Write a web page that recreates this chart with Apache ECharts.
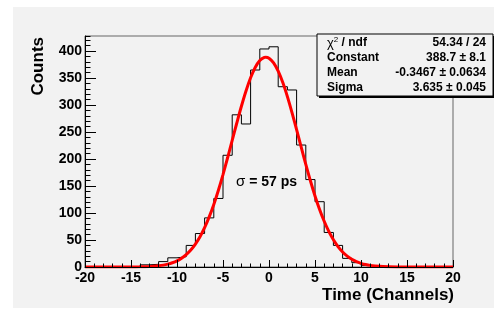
<!DOCTYPE html>
<html>
<head>
<meta charset="utf-8">
<script src="https://cdn.jsdelivr.net/npm/echarts@6/dist/echarts.min.js"></script>
<style>
html,body{margin:0;padding:0;background:#fff;}
#c{width:494px;height:309px;}
</style>
</head>
<body>
<div id="c"></div>
<script>
// Histogram: left edges of 1-channel bins and counts
var binLeft = [-20,-19,-18,-17,-16,-15,-14,-13,-12,-11,-10,-9,-8,-7,-6,-5,-4,-3,-2,-1,0,1,2,3,4,5,6,7,8,9,10,11,12,13,14,15,16,17,18,19];
var binCounts = [0,0,0,0,0,0,4,5,10,17,19,40,62,91,127,207,282,265,365,404,408,334,328,226,162,121,64,40,16,8,3,1,1,0,0,0,0,0,0,0];
// Fit curve
var fitX = [-20,-17,-15,-14,-13,-12.5,-12,-11.5,-11,-10.5,-10,-9.5,-9,-8.5,-8,-7.5,-7,-6.5,-6,-5.5,-5,-4.5,-4,-3.5,-3,-2.5,-2,-1.5,-1,-0.5,-0.35,0,0.5,1,1.5,2,2.5,3,3.5,4,4.5,5,5.5,6,6.5,7,7.5,8,8.5,9,9.5,10,10.5,11,12,13,14,15,17,20];
var fitY = [0,0.02,0.12,0.34,0.91,1.45,2.3,3.5,5.3,7.9,11.4,16.3,22.9,31.4,42.4,56.1,72.8,92.8,116.0,142.3,171.3,202.4,234.6,266.8,297.8,326.1,350.5,369.7,382.5,388.4,388.7,386.9,378.3,362.9,341.7,315.6,286.0,254.4,222.0,190.2,159.8,131.7,106.6,84.7,65.9,50.4,37.8,27.8,20.1,14.2,9.9,6.8,4.5,3.0,1.2,0.46,0.16,0.05,0,0];
var yTickLabels = [0,50,100,150,200,250,300,350,400];
var xTickLabels = [-20,-15,-10,-5,0,5,10,15,20];
var statNames = ['Constant','Mean','Sigma'];
var statValues = ['54.34 / 24','388.7 \u00b1 8.1','-0.3467 \u00b1 0.0634','3.635 \u00b1 0.045'];

var FONT = '"Liberation Sans", Arial, Helvetica, sans-serif';
var histData = binLeft.map(function(x,i){return [x, binCounts[i]];});
histData.push([binLeft[binLeft.length-1]+1, binCounts[binCounts.length-1]]);
var fitData = fitX.map(function(x,i){return [x, fitY[i]];});

var chart = echarts.init(document.getElementById('c'), null, {renderer:'canvas'});
var statLines = [];
var rowsY = [43, 57.5, 72.5, 87.5];
statLines.push({type:'text', x:327, y:rowsY[0], style:{text:'{chi|\u03c7}{sup|2}{b| / ndf}', rich:{chi:{fontFamily:FONT,fontSize:13,fill:'#000'},sup:{fontFamily:FONT,fontSize:8,fill:'#000',verticalAlign:'top',padding:[0,0,6,0]},b:{fontFamily:FONT,fontSize:12,fontWeight:'bold',fill:'#000'}}, verticalAlign:'middle', align:'left'}, z:20});
for (var i=0;i<3;i++){
  statLines.push({type:'text', x:327, y:rowsY[i+1], style:{text:statNames[i], font:'bold 12px '+FONT, fill:'#000', verticalAlign:'middle', align:'left'}, z:20});
}
for (var j=0;j<4;j++){
  statLines.push({type:'text', x:486, y:rowsY[j], style:{text:statValues[j], font:'bold 12px '+FONT, fill:'#000', verticalAlign:'middle', align:'right'}, z:20});
}

var option = {
  animation:false,
  backgroundColor:'#ffffff',
  grid:{left:85, top:36, right:41, bottom:42, show:true, backgroundColor:'#f2f2f2', borderColor:'#666', borderWidth:1, z:0},
  xAxis:{type:'value', min:-20, max:20, interval:5, z:5,
    axisLine:{onZero:false, lineStyle:{color:'#000', width:1}},
    axisTick:{show:true, inside:true, length:7, lineStyle:{color:'#000', width:1}},
    minorTick:{show:true, splitNumber:5, length:3.5, lineStyle:{color:'#000', width:1}},
    splitLine:{show:false},
    axisLabel:{margin:4, color:'#000', fontFamily:FONT, fontWeight:'bold', fontSize:14,
      formatter:function(v){return xTickLabels.indexOf(v)>=0 ? String(v) : '';}}
  },
  yAxis:[
    {type:'value', min:0, max:428, interval:50, z:5,
      axisLine:{show:true, onZero:false, lineStyle:{color:'#000', width:1}},
      axisTick:{show:true, inside:true, length:11, lineStyle:{color:'#000', width:1}},
      splitLine:{show:false},
      axisLabel:{margin:3, color:'#000', fontFamily:FONT, fontWeight:'bold', fontSize:14, showMaxLabel:false,
        formatter:function(v){return yTickLabels.indexOf(v)>=0 ? String(v) : '';}}
    },
    {type:'value', min:0, max:428, interval:10, position:'left', offset:0, z:5,
      axisLine:{show:false, onZero:false},
      axisTick:{show:true, inside:true, length:5.5, lineStyle:{color:'#000', width:1}},
      splitLine:{show:false},
      axisLabel:{show:false}
    }
  ],
  series:[
    {type:'line', data:histData, step:'end', symbol:'none', lineStyle:{color:'#000', width:1}, z:3, silent:true},
    {type:'line', data:fitData, smooth:0.3, symbol:'none', lineStyle:{color:'#ff0000', width:3}, z:4, silent:true}
  ],
  graphic:[
    {type:'rect', shape:{x:13, y:7, width:481, height:301}, style:{fill:'#f2f2f2'}, z:-10, silent:true},
    {type:'rect', shape:{x:319, y:36, width:176, height:62}, style:{fill:'#000'}, z:18},
    {type:'rect', shape:{x:317, y:34, width:176, height:62}, style:{fill:'#f2f2f2', stroke:'#000', lineWidth:1}, z:19},
    {type:'text', x:38, y:37, rotation:Math.PI/2, style:{text:'Counts', font:'bold 17px '+FONT, fill:'#000', align:'right', verticalAlign:'middle'}, z:20},
    {type:'text', x:454, y:295, style:{text:'Time (Channels)', font:'bold 17px '+FONT, fill:'#000', align:'right', verticalAlign:'middle'}, z:20},
    {type:'text', x:236, y:182, style:{text:'{s|\u03c3}{b| = 57 ps}', rich:{s:{fontFamily:FONT, fontSize:15, fill:'#000'}, b:{fontFamily:FONT, fontSize:14, fontWeight:'bold', fill:'#000'}}, align:'left', verticalAlign:'middle'}, z:20}
  ].concat(statLines)
};
chart.setOption(option);
</script>
</body>
</html>
